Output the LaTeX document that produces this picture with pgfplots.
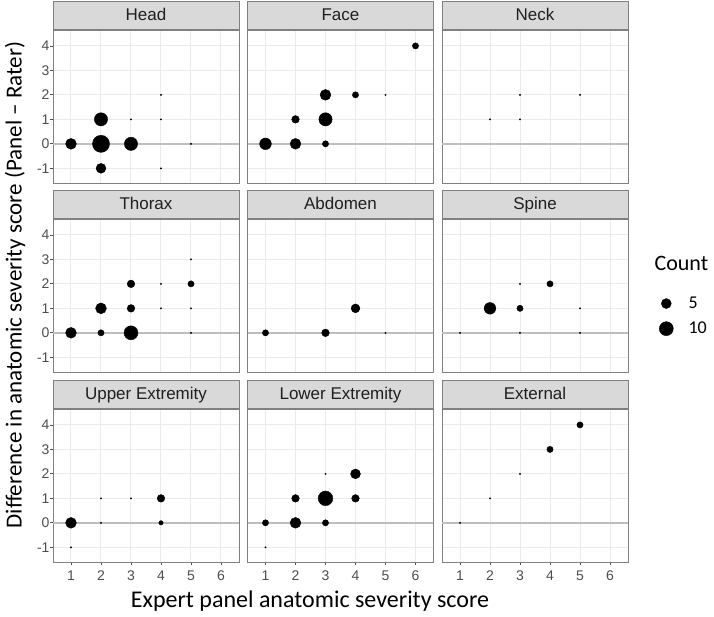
\documentclass[border=0pt]{standalone}
\usepackage{pgfplots}
\pgfplotsset{compat=1.18}
\usepackage{fontspec}
\setmainfont{Liberation Sans}
\newfontfamily\calibri{Carlito}
\definecolor{gridc}{HTML}{EBEBEB}
\definecolor{zeroc}{HTML}{BEBEBE}
\definecolor{borderc}{HTML}{808080}
\definecolor{stripc}{HTML}{D9D9D9}
\definecolor{tickc}{HTML}{4D4D4D}
\pgfplotsset{
  panel/.style={
    scale only axis, width=186pt, height=153pt, anchor=south west,
    xmin=0.4, xmax=6.6, ymin=-1.6, ymax=4.65,
    xtick={1,...,6}, ytick={-1,0,...,4},
    grid=major, major grid style={gridc, line width=1pt},
    axis line style={borderc, line width=0.9pt},
    tick pos=left,
    tick style={tickc, line width=0.8pt}, tick align=outside, major tick length=3pt,
    ticklabel style={font=\fontsize{14}{14}\selectfont, text=tickc},
    xticklabel style={yshift=-2pt},
    yticklabel style={xshift=3pt},
    /pgf/number format/assume math mode=true,
    every axis title shift=0pt,
    title style={at={(0.5,1)}, anchor=south, yshift=0pt, fill=stripc, draw=borderc,
      line width=0.9pt, minimum width=186pt, minimum height=28pt, inner sep=0pt,
      text height=12pt, text depth=3pt, font=\fontsize{17}{17}\selectfont, text=black!88},
  },
  noxl/.style={xticklabels={}, xtick style={/pgfplots/major tick length=0pt}},
  noyl/.style={yticklabels={}, ytick style={/pgfplots/major tick length=0pt}},
  pts/.style={scatter, only marks, mark=*, scatter/use mapped color={draw=black, fill=black},
    visualization depends on={max(0.7,2.21*sqrt(\thisrow{c})) \as \msz},
    scatter/@pre marker code/.append style={/tikz/mark size=\msz}},
  zl/.style={zeroc, line width=2pt, forget plot},
}
\begin{document}
\begin{tikzpicture}
\path[use as bounding box] (0,0) rectangle (714pt,616pt);
% Row 1
\begin{axis}[panel, noxl, title={Head}, at={(53pt,433pt)}]
\addplot[zl] coordinates {(0.4,0) (6.6,0)};
\addplot[pts] table {
x y c
1 0 6
2 0 15
3 0 9
2 1 9
2 -1 5
3 1 0
4 1 0
4 2 0
4 -1 0
5 0 0
};
\end{axis}
\begin{axis}[panel, noxl, noyl, title={Face}, at={(247.5pt,433pt)}]
\addplot[zl] coordinates {(0.4,0) (6.6,0)};
\addplot[pts] table {
x y c
1 0 7
2 0 6
3 0 2
2 1 3
3 1 9
3 2 6
4 2 2
5 2 0
6 4 2
};
\end{axis}
\begin{axis}[panel, noxl, noyl, title={Neck}, at={(442pt,433pt)}]
\addplot[zl] coordinates {(0.4,0) (6.6,0)};
\addplot[pts] table {
x y c
2 1 0
3 1 0
3 2 0
5 2 0
};
\end{axis}
% Row 2
\begin{axis}[panel, noxl, title={Thorax}, at={(53pt,244pt)}]
\addplot[zl] coordinates {(0.4,0) (6.6,0)};
\addplot[pts] table {
x y c
1 0 6
2 0 2
3 0 10
5 0 0
2 1 6
3 1 3
4 1 0
5 1 0
3 2 3
4 2 0
5 2 2
5 3 0
};
\end{axis}
\begin{axis}[panel, noxl, noyl, title={Abdomen}, at={(247.5pt,244pt)}]
\addplot[zl] coordinates {(0.4,0) (6.6,0)};
\addplot[pts] table {
x y c
1 0 2
3 0 3
4 1 4
5 0 0
};
\end{axis}
\begin{axis}[panel, noxl, noyl, title={Spine}, at={(442pt,244pt)},
  legend style={at={(axis description cs:1.15,0.365)}, anchor=west, draw=none, fill=none,
    font=\calibri\fontsize{18}{18}\selectfont, row sep=10pt, nodes={inner sep=1pt},
    /tikz/every odd column/.append style={column sep=14pt}},
  legend cell align=left]
\addlegendimage{legend image code/.code={\fill[black] (0pt,0pt) circle (5pt);}}
\addlegendentry{5}
\addlegendimage{legend image code/.code={\fill[black] (0pt,0pt) circle (7pt);}}
\addlegendentry{10}
\addplot[zl] coordinates {(0.4,0) (6.6,0)};
\addplot[pts] table {
x y c
1 0 0
3 0 0
5 0 0
2 1 7
3 1 2
5 1 0
3 2 0
4 2 2
};
\end{axis}
% Row 3
\begin{axis}[panel, title={Upper Extremity}, at={(53pt,54pt)}]
\addplot[zl] coordinates {(0.4,0) (6.6,0)};
\addplot[pts] table {
x y c
1 0 6
1 -1 0
2 0 0
2 1 0
3 1 0
4 1 3
4 0 1
};
\end{axis}
\begin{axis}[panel, noyl, title={Lower Extremity}, at={(247.5pt,54pt)}]
\addplot[zl] coordinates {(0.4,0) (6.6,0)};
\addplot[pts] table {
x y c
1 0 2
1 -1 0
2 1 3
2 0 6
3 2 0
3 1 11
3 0 2
4 2 5
4 1 3
};
\end{axis}
\begin{axis}[panel, noyl, title={External}, at={(442pt,54pt)}]
\addplot[zl] coordinates {(0.4,0) (6.6,0)};
\addplot[pts] table {
x y c
1 0 0
2 1 0
3 2 0
4 3 2
5 4 2
};
\end{axis}
\node[font=\calibri\fontsize{24}{24}\selectfont] at (310pt,15pt) {Expert panel anatomic severity score};
\node[font=\calibri\fontsize{23}{23}\selectfont, rotate=90] at (15pt,331pt) {Difference in anatomic severity score (Panel – Rater)};
\node[font=\calibri\fontsize{22}{22}\selectfont, anchor=west] at (651pt,353pt) {Count};
\end{tikzpicture}
\end{document}
